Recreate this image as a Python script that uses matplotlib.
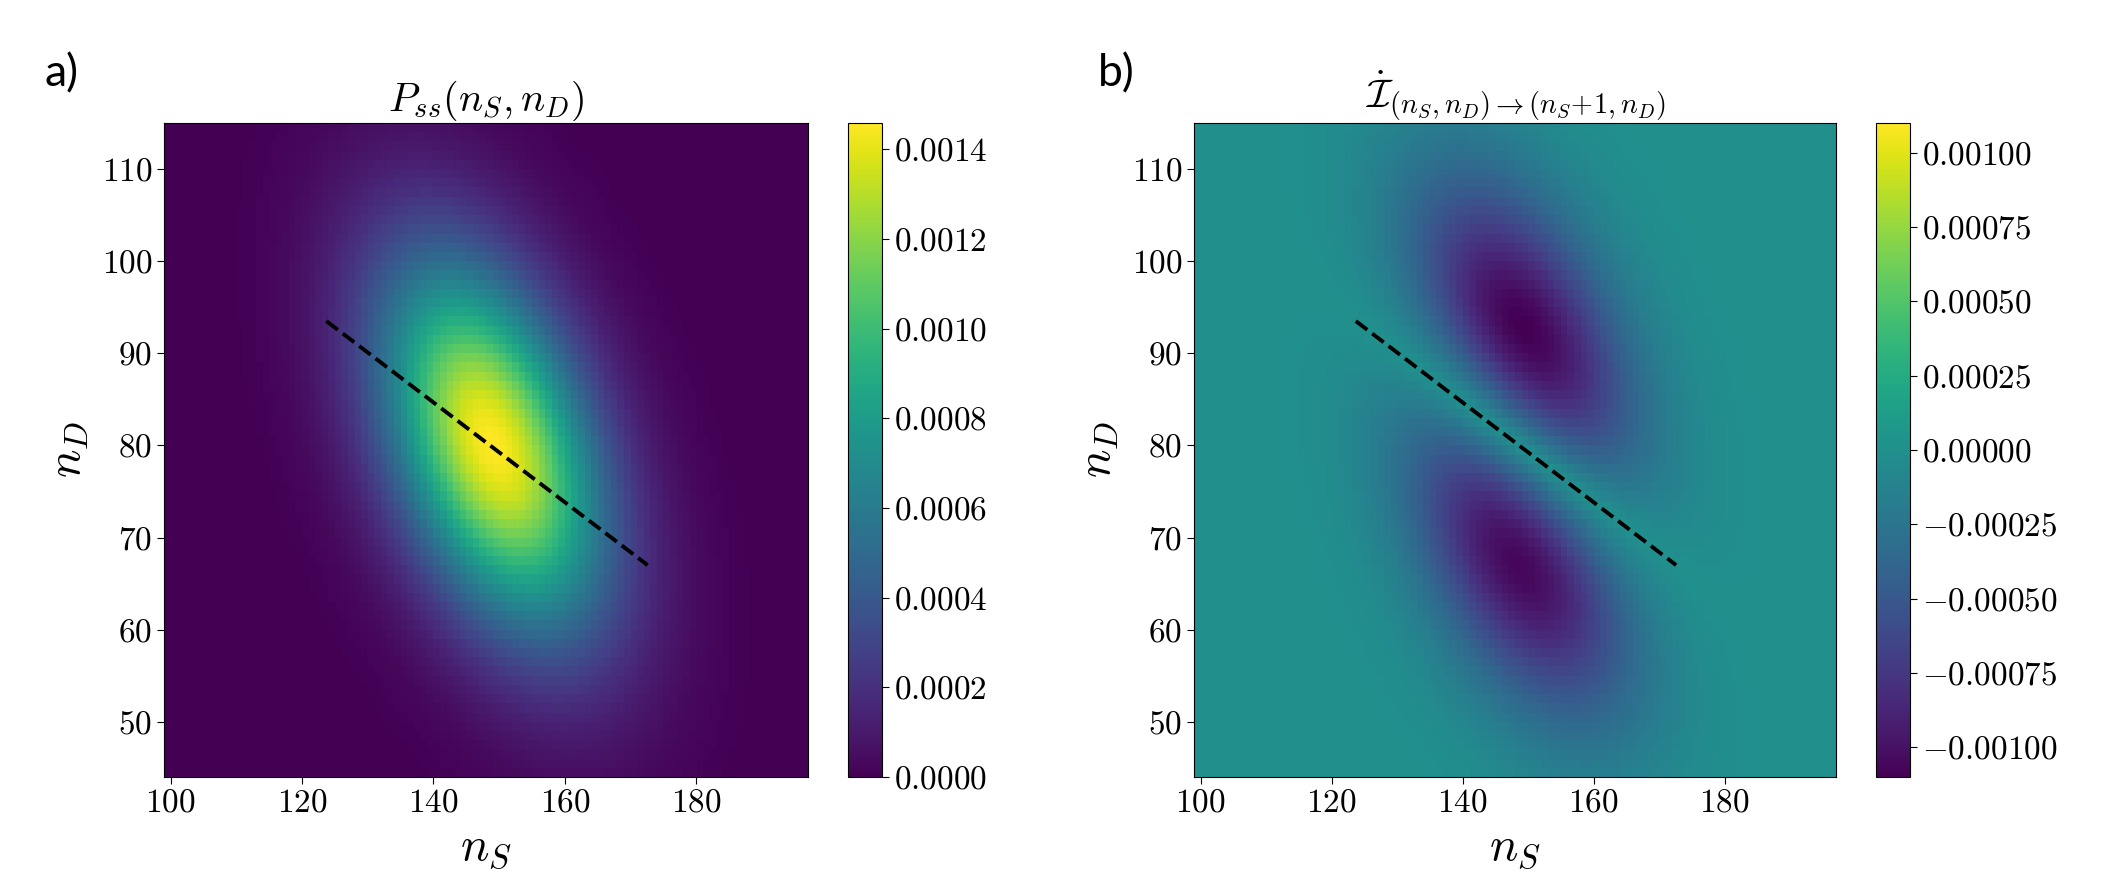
import numpy as np
import matplotlib
matplotlib.use("Agg")
import matplotlib.pyplot as plt
from matplotlib.ticker import FuncFormatter, FixedLocator

plt.rcParams['mathtext.fontset'] = 'cm'
plt.rcParams['font.family'] = 'serif'
plt.rcParams['font.serif'] = ['cmr10', 'DejaVu Serif']
plt.rcParams['axes.unicode_minus'] = False

# ---- grid of states (cell edges) ----
ns_edges = np.arange(99, 198)      # n_S
nd_edges = np.arange(44, 116)      # n_D

# ---- steady-state distribution, values ----
p_peak = 0.00146                   # top of colorbar a
p_center = [149.0, 80.0]           # (n_S, n_D) of the maximum
p_sigma_major = 15.5               # spread along the long axis
p_sigma_minor = 9.5                # spread across it
p_major_dir = [0.56, -0.83]        # long axis direction (n_S, n_D)

# ---- dashed line (both panels) ----
line_ns = [123.7, 172.6]
line_nd = [93.5, 67.0]

# ---- current panel b ----
current_min = -0.00110             # depth of the two lobes
current_power = 1.1                # growth of |current| away from the dashed line
cbar_a_ticks = [0.0, 0.0002, 0.0004, 0.0006, 0.0008, 0.0010, 0.0012, 0.0014]
cbar_b_ticks = [-0.00100, -0.00075, -0.00050, -0.00025, 0.0, 0.00025, 0.00050, 0.00075, 0.00100]
cbar_b_lim = [-0.00110, 0.00110]
x_ticks = [100, 120, 140, 160, 180]
y_ticks = [50, 60, 70, 80, 90, 100, 110]

ns_c = (ns_edges[:-1] + ns_edges[1:]) / 2
nd_c = (nd_edges[:-1] + nd_edges[1:]) / 2
NS, ND = np.meshgrid(ns_c, nd_c)
u = np.array(p_major_dir) / np.linalg.norm(p_major_dir)
v = np.array([-u[1], u[0]])
dx, dy = NS - p_center[0], ND - p_center[1]
a1 = dx * u[0] + dy * u[1]
a2 = dx * v[0] + dy * v[1]
P = p_peak * np.exp(-0.5 * (a1 / p_sigma_major) ** 2 - 0.5 * (a2 / p_sigma_minor) ** 2)

slope = (line_nd[1] - line_nd[0]) / (line_ns[1] - line_ns[0])
d = ND - (line_nd[0] + slope * (NS - line_ns[0]))
I = P * np.abs(d) ** current_power
I = I / I.max() * current_min

W, H = 2117, 880
fig = plt.figure(figsize=(W / 100, H / 100), dpi=100)

def frac(x0, x1, y0, y1):
    return [x0 / W, 1 - y1 / H, (x1 - x0) / W, (y1 - y0) / H]

ax_a = fig.add_axes(frac(164, 808, 123, 777))
cax_a = fig.add_axes(frac(848, 882, 123, 777))
ax_b = fig.add_axes(frac(1194, 1836, 123, 777))
cax_b = fig.add_axes(frac(1876, 1910, 123, 777))

fmt_int = FuncFormatter(lambda v, p: r'$%d$' % v)

def style(ax):
    ax.set_xlim(ns_edges[0], ns_edges[-1])
    ax.set_ylim(nd_edges[0], nd_edges[-1])
    ax.xaxis.set_major_locator(FixedLocator(x_ticks))
    ax.yaxis.set_major_locator(FixedLocator(y_ticks))
    ax.xaxis.set_major_formatter(fmt_int)
    ax.yaxis.set_major_formatter(fmt_int)
    ax.tick_params(labelsize=24, length=5, width=0.8)
    ax.set_xlabel(r'$n_S$', fontsize=34, labelpad=8)
    ax.set_ylabel(r'$n_D$', fontsize=34, labelpad=8)
    ax.plot(line_ns, line_nd, color='black', ls='--', lw=2.8)

m_a = ax_a.pcolormesh(ns_edges, nd_edges, P, cmap='viridis', vmin=0, vmax=P.max(), shading='flat')
style(ax_a)
ax_a.set_title(r'$P_{ss}(n_S,n_D)$', fontsize=29, pad=4)
cb_a = fig.colorbar(m_a, cax=cax_a, ticks=cbar_a_ticks)
cb_a.ax.yaxis.set_major_formatter(FuncFormatter(lambda v, p: r'$%.4f$' % v))
cb_a.ax.tick_params(labelsize=24, length=5, width=0.8)

m_b = ax_b.pcolormesh(ns_edges, nd_edges, I, cmap='viridis', vmin=cbar_b_lim[0], vmax=cbar_b_lim[1], shading='flat')
style(ax_b)
ax_b.set_title(r'$\dot{\mathcal{I}}_{(n_S,n_D)\rightarrow(n_S\!+\!1,n_D)}$', fontsize=29, pad=4)
cb_b = fig.colorbar(m_b, cax=cax_b, ticks=cbar_b_ticks)
cb_b.ax.yaxis.set_major_formatter(FuncFormatter(lambda v, p: r'$%.5f$' % v))
cb_b.ax.tick_params(labelsize=24, length=5, width=0.8)

fig.text(45 / W, 1 - 86 / H, 'a)', fontsize=32, family='Lato', va='baseline')
fig.text(1098 / W, 1 - 86 / H, 'b)', fontsize=32, family='Lato', va='baseline')

fig.savefig('out.png', dpi=100)
